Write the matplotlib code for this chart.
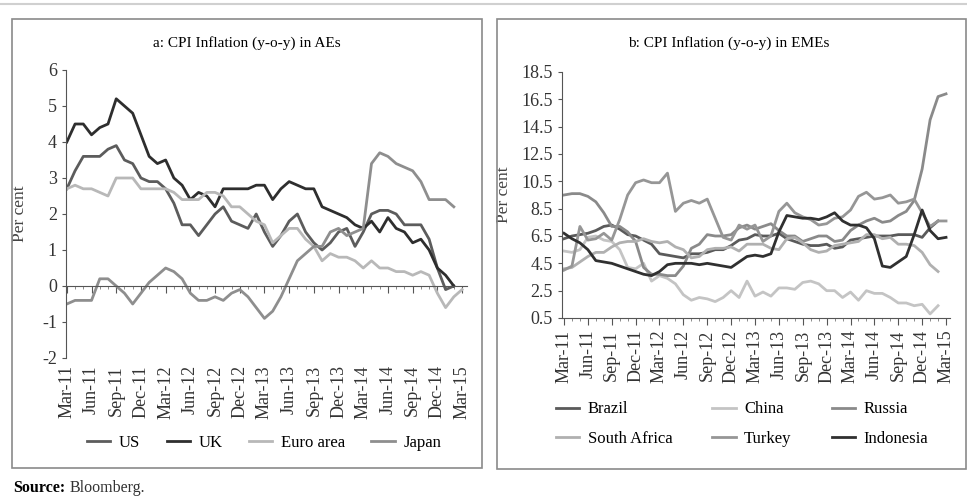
import numpy as np
import matplotlib
matplotlib.use("Agg")
import matplotlib.pyplot as plt
from matplotlib.lines import Line2D
from matplotlib.patches import Rectangle

plt.rcParams['font.family'] = ['Liberation Serif', 'DejaVu Serif']
plt.rcParams['axes.unicode_minus'] = False

# Quarterly tick labels, monthly data from Mar-11
quarters = ["Mar-11", "Jun-11", "Sep-11", "Dec-11", "Mar-12", "Jun-12", "Sep-12",
            "Dec-12", "Mar-13", "Jun-13", "Sep-13", "Dec-13", "Mar-14", "Jun-14",
            "Sep-14", "Dec-14", "Mar-15"]

# Panel a: advanced economies (per cent, y-o-y)
us = [2.7, 3.2, 3.6, 3.6, 3.6, 3.8, 3.9, 3.5, 3.4, 3.0, 2.9, 2.9, 2.7, 2.3, 1.7, 1.7,
      1.4, 1.7, 2.0, 2.2, 1.8, 1.7, 1.6, 2.0, 1.5, 1.1, 1.4, 1.8, 2.0, 1.5, 1.2, 1.0,
      1.2, 1.5, 1.6, 1.1, 1.5, 2.0, 2.1, 2.1, 2.0, 1.7, 1.7, 1.7, 1.3, 0.5, -0.1, 0.0]
uk = [4.0, 4.5, 4.5, 4.2, 4.4, 4.5, 5.2, 5.0, 4.8, 4.2, 3.6, 3.4, 3.5, 3.0, 2.8, 2.4,
      2.6, 2.5, 2.2, 2.7, 2.7, 2.7, 2.7, 2.8, 2.8, 2.4, 2.7, 2.9, 2.8, 2.7, 2.7, 2.2,
      2.1, 2.0, 1.9, 1.7, 1.6, 1.8, 1.5, 1.9, 1.6, 1.5, 1.2, 1.3, 1.0, 0.5, 0.3, 0.0]
euro = [2.7, 2.8, 2.7, 2.7, 2.6, 2.5, 3.0, 3.0, 3.0, 2.7, 2.7, 2.7, 2.7, 2.6, 2.4, 2.4,
        2.4, 2.6, 2.6, 2.5, 2.2, 2.2, 2.0, 1.8, 1.7, 1.2, 1.4, 1.6, 1.6, 1.3, 1.1, 0.7,
        0.9, 0.8, 0.8, 0.7, 0.5, 0.7, 0.5, 0.5, 0.4, 0.4, 0.3, 0.4, 0.3, -0.2, -0.6, -0.3, -0.1]
japan = [-0.5, -0.4, -0.4, -0.4, 0.2, 0.2, 0.0, -0.2, -0.5, -0.2, 0.1, 0.3, 0.5, 0.4, 0.2, -0.2,
         -0.4, -0.4, -0.3, -0.4, -0.2, -0.1, -0.3, -0.6, -0.9, -0.7, -0.3, 0.2, 0.7, 0.9, 1.1, 1.1,
         1.5, 1.6, 1.4, 1.5, 1.6, 3.4, 3.7, 3.6, 3.4, 3.3, 3.2, 2.9, 2.4, 2.4, 2.4, 2.2]

# Panel b: emerging economies (per cent, y-o-y)
brazil = [6.3, 6.5, 6.6, 6.7, 6.9, 7.2, 7.3, 7.0, 6.6, 6.5, 6.2, 5.9, 5.2, 5.1, 5.0, 4.9,
          5.2, 5.2, 5.3, 5.5, 5.5, 5.8, 6.2, 6.3, 6.6, 6.5, 6.5, 6.7, 6.3, 6.1, 5.9, 5.8,
          5.8, 5.9, 5.6, 5.7, 6.2, 6.3, 6.4, 6.5, 6.5, 6.5, 6.6, 6.6, 6.6, 6.4, 7.1, 7.6]
china = [5.4, 5.3, 5.5, 6.4, 6.5, 6.2, 6.1, 5.5, 4.2, 4.1, 4.5, 3.2, 3.6, 3.4, 3.0, 2.2,
         1.8, 2.0, 1.9, 1.7, 2.0, 2.5, 2.0, 3.2, 2.1, 2.4, 2.1, 2.7, 2.7, 2.6, 3.1, 3.2,
         3.0, 2.5, 2.5, 2.0, 2.4, 1.8, 2.5, 2.3, 2.3, 2.0, 1.6, 1.6, 1.4, 1.5, 0.8, 1.4]
russia = [9.5, 9.6, 9.6, 9.4, 9.0, 8.2, 7.2, 7.2, 6.8, 6.1, 4.2, 3.7, 3.7, 3.6, 3.6, 4.3,
          5.6, 5.9, 6.6, 6.5, 6.5, 6.6, 7.1, 7.3, 7.0, 7.2, 7.4, 6.9, 6.5, 6.5, 6.1, 6.3,
          6.5, 6.5, 6.1, 6.2, 6.9, 7.3, 7.6, 7.8, 7.5, 7.6, 8.0, 8.3, 9.1, 11.4, 15.0, 16.7, 16.9]
south_africa = [4.1, 4.2, 4.6, 5.0, 5.3, 5.3, 5.7, 6.0, 6.1, 6.1, 6.3, 6.1, 6.0, 6.1, 5.7, 5.5,
                4.9, 5.0, 5.5, 5.6, 5.6, 5.7, 5.4, 5.9, 5.9, 5.9, 5.6, 5.5, 6.3, 6.4, 6.0, 5.5,
                5.3, 5.4, 5.8, 5.9, 6.0, 6.1, 6.6, 6.6, 6.3, 6.4, 5.9, 5.9, 5.8, 5.3, 4.4, 3.9]
turkey = [4.0, 4.3, 7.2, 6.2, 6.3, 6.7, 6.2, 7.7, 9.5, 10.4, 10.6, 10.4, 10.4, 11.1, 8.3, 8.9,
          9.1, 8.9, 9.2, 7.8, 6.4, 6.2, 7.3, 7.0, 7.3, 6.1, 6.5, 8.3, 8.9, 8.2, 7.9, 7.7,
          7.3, 7.4, 7.8, 7.9, 8.4, 9.4, 9.7, 9.2, 9.3, 9.5, 8.9, 9.0, 9.2, 8.2, 7.2, 7.6, 7.6]
indonesia = [6.7, 6.3, 6.0, 5.5, 4.7, 4.6, 4.5, 4.3, 4.1, 3.9, 3.7, 3.6, 3.9, 4.4, 4.5, 4.5,
             4.5, 4.4, 4.5, 4.4, 4.3, 4.2, 4.6, 5.0, 5.1, 5.0, 5.2, 6.8, 8.0, 7.9, 7.8, 7.8,
             7.7, 7.9, 8.2, 7.6, 7.3, 7.3, 7.1, 6.3, 4.3, 4.2, 4.6, 5.0, 6.6, 8.4, 6.9, 6.3, 6.4]

W, H = 967, 503
fig = plt.figure(figsize=(W / 100, H / 100), dpi=100)

# panel frames and top rule
fig.add_artist(Line2D([0, 1], [1 - 4 / H, 1 - 4 / H], color="#d0d0d0", lw=1.5))
fig.add_artist(Rectangle((12 / W, 1 - 468 / H), 470 / W, 449 / H, fill=False,
                         ec="#8a8a8a", lw=1.2))
fig.add_artist(Rectangle((497 / W, 1 - 469 / H), 469 / W, 450 / H, fill=False,
                         ec="#8a8a8a", lw=1.2))

tick_pos = np.arange(0, 49, 3)
TICK_FS = 13

# ---- panel a ----
ax1 = fig.add_axes([66 / W, 1 - 358 / H, 401 / W, 288 / H])
series_a = [("US", us, "#5c5c5c"), ("UK", uk, "#2e2e2e"),
            ("Euro area", euro, "#b8b8b8"), ("Japan", japan, "#8e8e8e")]
for name, vals, col in series_a:
    ax1.plot(np.arange(len(vals)), vals, color=col, lw=2, label=name)
ax1.set_xlim(-0.1, 48.6)
ax1.set_ylim(-2, 6)
ax1.set_yticks(range(-2, 7))
ax1.tick_params(axis="y", labelsize=TICK_FS, length=3, color="#555555", labelcolor="#333333")
ax1.spines["left"].set_color("#555555")
ax1.spines["bottom"].set_position(("data", 0))
ax1.spines["bottom"].set_color("#555555")
for s in ["top", "right"]:
    ax1.spines[s].set_visible(False)
ax1.set_xticks(tick_pos)
ax1.set_xticks(np.arange(49), minor=True)
ax1.tick_params(axis="x", which="major", length=5, labelbottom=False, color="#555555")
ax1.tick_params(axis="x", which="minor", length=2, color="#777777")
sec = ax1.secondary_xaxis("bottom")
sec.set_xticks(tick_pos)
sec.set_xticklabels(quarters, rotation=90)
sec.tick_params(length=0, labelsize=TICK_FS, pad=5, labelcolor="#333333")
sec.spines["bottom"].set_visible(False)
ax1.set_ylabel("Per cent", fontsize=12.5, color="#444444")
ax1.yaxis.set_label_coords(-38 / 401, 0.5)
fig.text(247 / W, 1 - 43 / H, "a: CPI Inflation (y-o-y) in AEs", ha="center",
         va="center", fontsize=11)
ax1.legend(loc="center", bbox_to_anchor=(264 / W, 1 - 443 / H),
           bbox_transform=fig.transFigure, ncol=4, frameon=False, fontsize=12,
           handlelength=1.4, columnspacing=1.6, handletextpad=0.5)

# ---- panel b ----
ax2 = fig.add_axes([562 / W, 1 - 318 / H, 388 / W, 246 / H])
series_b = [("Brazil", brazil, "#5a5a5a"), ("China", china, "#c4c4c4"),
            ("Russia", russia, "#8a8a8a"), ("South Africa", south_africa, "#b0b0b0"),
            ("Turkey", turkey, "#969696"), ("Indonesia", indonesia, "#303030")]
handles = {}
for name, vals, col in series_b:
    h, = ax2.plot(np.arange(len(vals)), vals, color=col, lw=2, label=name)
    handles[name] = h
ax2.set_xlim(-0.25, 48.5)
ax2.set_ylim(0.5, 18.5)
ax2.set_yticks(np.arange(0.5, 18.6, 2))
ax2.set_yticklabels([f"{v:g}" for v in np.arange(0.5, 18.6, 2)])
ax2.tick_params(axis="y", labelsize=TICK_FS, length=3, color="#555555", labelcolor="#333333")
ax2.set_xticks(tick_pos)
ax2.set_xticklabels(quarters, rotation=90)
ax2.set_xticks(np.arange(49), minor=True)
ax2.tick_params(axis="x", which="major", length=5, labelsize=TICK_FS, color="#555555",
                labelcolor="#333333")
ax2.tick_params(axis="x", which="minor", length=2, color="#777777")
for s in ["left", "bottom"]:
    ax2.spines[s].set_color("#555555")
for s in ["top", "right"]:
    ax2.spines[s].set_visible(False)
ax2.set_ylabel("Per cent", fontsize=12.5, color="#444444")
ax2.yaxis.set_label_coords(-50 / 388, 0.5)
fig.text(729 / W, 1 - 43 / H, "b: CPI Inflation (y-o-y) in EMEs", ha="center",
         va="center", fontsize=11)
order = ["Brazil", "South Africa", "China", "Turkey", "Russia", "Indonesia"]
ax2.legend([handles[n] for n in order], order, loc="center",
           bbox_to_anchor=(742 / W, 1 - 424 / H), bbox_transform=fig.transFigure,
           ncol=3, frameon=False, fontsize=12, handlelength=1.4,
           columnspacing=2.4, handletextpad=0.5, labelspacing=0.8)

src = fig.text(13 / W, 1 - 492 / H, "Source:", fontsize=11.5, fontweight="bold",
               va="baseline", ha="left")
plt.annotate("Bloomberg.", xy=(1, 0), xycoords=src, xytext=(3, 0),
             textcoords="offset points", fontsize=11.5, va="bottom", ha="left",
             color="#333333", annotation_clip=False)

fig.savefig("out.png", dpi=100)
